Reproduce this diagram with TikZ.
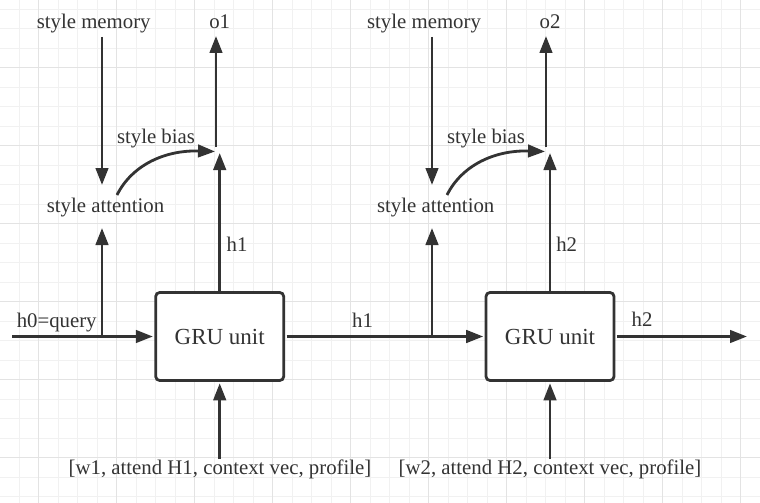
\documentclass[tikz,border=0pt]{standalone}
\usepackage{fontspec}
\setmainfont{Liberation Serif}
\usetikzlibrary{arrows.meta}
\definecolor{ink}{HTML}{333333}
\definecolor{gminor}{HTML}{F1F1F1}
\definecolor{gmajor}{HTML}{E3E3E3}
\begin{document}
\begin{tikzpicture}[x=1pt,y=-1pt,
  lbl/.style={anchor=base,inner sep=0pt,text=ink,font=\fontsize{20.8}{24}\selectfont},
  arr/.style={draw=ink,line width=2.8pt,-{Triangle[length=17pt,width=12.5pt]}},
  ln/.style={draw=ink,line width=2.8pt},
  gru/.style={draw=ink,line width=2.8pt,rounded corners=4pt,fill=white,
    minimum width=128pt,minimum height=88pt,text=ink,
    font=\fontsize{23}{26}\selectfont,inner sep=0pt}]
\useasboundingbox (0,0) rectangle (760,503);
\fill[white] (0,0) rectangle (760,503);
% grid
\foreach \i in {0,...,39} {\draw[gminor,line width=1pt] ({19.5*\i-0.3},0) -- ({19.5*\i-0.3},503);}
\foreach \j in {0,...,26} {\draw[gminor,line width=1pt] (0,{19.5*\j-10.3}) -- (760,{19.5*\j-10.3});}
\foreach \i in {0,...,9} {\draw[gmajor,line width=1pt] ({78*\i+38.7},0) -- ({78*\i+38.7},503);}
\foreach \j in {0,...,6} {\draw[gmajor,line width=1pt] (0,{78*\j-10.3}) -- (760,{78*\j-10.3});}

% boxes
\node[gru] (gru1) at (219.7,336.5) {GRU unit};
\node[gru] (gru2) at (550,336.5) {GRU unit};

% labels
\node[lbl] (sm1) at (93.7,29) {style memory};
\node[lbl] (o1) at (219.7,29) {o1};
\node[lbl] (sb1) at (156,143.3) {style bias};
\node[lbl] (sa1) at (105.5,212.3) {style attention};
\node[lbl] (h1v) at (237,251.5) {h1};
\node[lbl] (h0) at (56.7,327.3) {h0=query};
\node[lbl] (h1m) at (362.5,327.3) {h1};
\node[lbl] (in1) at (220,474.5) {[w1, attend H1, context vec, profile]};
\node[lbl] (sm2) at (424,29) {style memory};
\node[lbl] (o2) at (550,29) {o2};
\node[lbl] (sb2) at (486,143.3) {style bias};
\node[lbl] (sa2) at (435.7,212.3) {style attention};
\node[lbl] (h2v) at (566.7,251.5) {h2};
\node[lbl] (h2r) at (642,326.7) {h2};
\node[lbl] (in2) at (550,474.5) {[w2, attend H2, context vec, profile]};

% coordinates
\coordinate (q0) at (12,336.5);
\coordinate (k1) at (102,336.5);
\coordinate (k2) at (432,336.5);
\coordinate (out) at (747,336.5);
\coordinate (m1s) at (102,37);   \coordinate (m1e) at (102,185);
\coordinate (m2s) at (432,37);   \coordinate (m2e) at (432,185);
\coordinate (a1e) at (102,228);  \coordinate (a2e) at (432,228);
\coordinate (j1) at (219.7,153); \coordinate (j2) at (550,153);
\coordinate (p1s) at (216,147);  \coordinate (p1e) at (216,36);
\coordinate (p2s) at (546,147);  \coordinate (p2e) at (546,36);
\coordinate (c1s) at (117,195);  \coordinate (c1e) at (215,151.5);
\coordinate (c2s) at (447,195);  \coordinate (c2e) at (545,151.5);
\coordinate (i1s) at (219.7,459); \coordinate (i2s) at (550,459);

% connectors, unit 1
\draw[arr] (m1s) -- (m1e);
\draw[arr] (p1s) -- (p1e);
\draw[arr] (gru1.north) -- (j1);
\draw[arr] (c1s) .. controls (132,165) and (165,150) .. (c1e);
\draw[arr,shorten >=1.4pt] (q0) -- (gru1.west);
\draw[arr] (k1) -- (a1e);
\draw[arr,shorten >=1.4pt] (i1s) -- (gru1.south);
% connectors, unit 2
\draw[arr,shorten <=1.4pt,shorten >=1.4pt] (gru1.east) -- (gru2.west);
\draw[arr] (m2s) -- (m2e);
\draw[arr] (p2s) -- (p2e);
\draw[arr] (gru2.north) -- (j2);
\draw[arr] (c2s) .. controls (462,165) and (495,150) .. (c2e);
\draw[arr] (k2) -- (a2e);
\draw[arr,shorten >=1.4pt] (i2s) -- (gru2.south);
\draw[arr,shorten <=1.4pt] (gru2.east) -- (out);
\end{tikzpicture}
\end{document}
